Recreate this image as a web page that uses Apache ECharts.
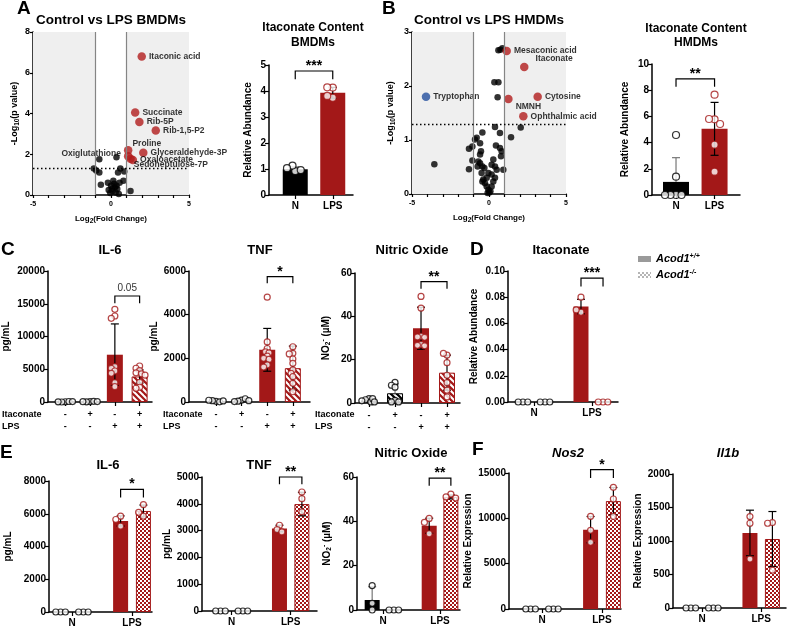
<!DOCTYPE html>
<html>
<head>
<meta charset="utf-8">
<script src="https://cdn.jsdelivr.net/npm/echarts@6.0.0/dist/echarts.min.js"></script>
<style>
  html, body { margin: 0; padding: 0; background: #fff; }
  #chart { width: 787px; height: 629px; }
</style>
</head>
<body>
<div id="chart"></div>
<script>
// ---------------- data ----------------
// A: volcano, BMDMs  [log2FC, -log10 p]
const volcanoAOther = [
  [-1.1, 1.3], [-0.95, 1.2], [-0.75, 1.1], [-0.75, 1.75], [-0.65, 0.5], [-0.2, 0.6], [-0.15, 0.25],
  [-0.05, 0.1], [0, 0.45], [0.05, 0.3], [0.1, 0.2], [0.15, 0.7], [0.2, 0.55], [0.25, 0.38],
  [0.3, 0.12], [0.35, 0.45], [0.4, 0.3], [0.45, 1.1], [0.5, 0.05], [0.55, 0.6], [0.6, 1.3],
  [0.8, 0.7], [0.85, 1.15], [1.25, 0.2], [0.35, 1.85]
];
const volcanoAHits = [
  ['Itaconic acid', 1.97, 6.8], ['Succinate', 1.55, 4.05], ['Rib-5P', 1.82, 3.58],
  ['Rib-1,5-P2', 2.87, 3.17], ['Proline', 1.1, 2.2], ['Glyceraldehyde-3P', 2.07, 2.07],
  ['Oxiglutathione', 1.1, 1.9], ['Oxaloacetate', 1.4, 1.72], ['Sedoheptulose-7P', 1.25, 1.78]
];
// B: volcano, HMDMs
const volcanoBOther = [
  [0.87, 2.70], [0.74, 2.67], [0.61, 2.66], [0.35, 2.07], [0.61, 2.07], [0.56, 1.79], [2.06, 1.23],
  [1.43, 1.05], [0.39, 1.24], [0.71, 1.13], [0.45, 0.90], [0.71, 0.85], [0.82, 0.79], [0.78, 0.70],
  [-0.43, 1.14], [-0.80, 1.04], [-0.91, 1.01], [-1.30, 0.84], [-1.08, 0.88], [-0.58, 0.94],
  [-3.55, 0.55], [-1.30, 0.46], [-1.08, 0.62], [-0.58, 0.57], [-0.43, 0.51], [-0.30, 0.48],
  [-0.04, 0.39], [0.28, 0.64], [0.17, 0.54], [0.39, 0.51], [0.50, 0.45], [0.93, 0.45],
  [-0.48, 0.39], [-0.37, 0.27], [-0.26, 0.20], [-0.15, 0.14], [-0.04, 0.08], [0.02, 0.03],
  [0.17, 0.14], [0.28, 0.23], [0.39, 0.30], [-0.15, 0.30], [-0.43, 0.23], [0.17, 0.36],
  [-0.69, 0.60], [-0.74, 0.51], [-0.58, 0.73], [-0.52, 0.79], [-0.09, 0.02], [0.09, 0.05]
];
const volcanoBHits = [
  ['Mesaconic acid', 1.15, 2.65], ['Itaconate', 2.29, 2.35], ['Cytosine', 3.16, 1.8],
  ['NMNH', 1.26, 1.76], ['Ophthalmic acid', 2.23, 1.44]
];
const volcanoBDown = [['Tryptophan', -4.09, 1.8]];

// A / B itaconate content
const contentGroups = ['N', 'LPS'];
const bmdmMeans = [0.99, 3.93];
const bmdmSd = [0.09, 0.21];
const bmdmDots = [[0.92, 1.13, 0.96, 1.03], [4.13, 4.14, 3.74, 3.81]];
const hmdmMeans = [1.0, 5.05];
const hmdmSd = [1.85, 2.02];
const hmdmDots = [[4.58, 1.4, 0, 0, 0, 0], [7.66, 5.78, 5.8, 5.42, 3.84, 1.78]];

// C: itaconate / LPS treatment
const cItaconate = ['-', '+', '-', '+'];
const cLps = ['-', '-', '+', '+'];
const cIl6Means = [50, 60, 7220, 3900];
const cIl6Sd = [0, 0, 4700, 1000];
const cIl6Dots = [[40, 0, 80, 20, 60], [70, 30, 100, 50, 60],
  [14150, 13130, 12770, 5390, 5140, 4730, 4380, 2950, 2340],
  [5500, 5150, 4800, 4450, 4300, 4100, 3000, 2250, 2100]];
const cTnfMeans = [40, 70, 2390, 1550];
const cTnfSd = [0, 0, 980, 1010];
const cTnfDots = [[30, 60, 10, 80, 50], [90, 40, 150, 20, 60],
  [4800, 2750, 2450, 2300, 2250, 2100, 2000, 1950, 1700, 1600],
  [2530, 2230, 2200, 1970, 1770, 1470, 1310, 1160, 855, 470]];
const cNoMeans = [1.2, 4.5, 34.5, 14];
const cNoSd = [0.8, 4.3, 9.7, 8.1];
const cNoDots = [[2, 1.5, 0.5, 2, 0.5, 1], [9.5, 8.2, 7.3, 1.2, 0.5, 0.5],
  [49.2, 43.8, 30.8, 30.5, 30.3, 27, 26.6, 26.4],
  [22.1, 22.9, 18.6, 12.8, 9.4, 5.9, 2.8]];

// D-F: Acod1+/+ vs Acod1-/-, groups N(+/+), N(-/-), LPS(+/+), LPS(-/-)
const genotypes = ['Acod1+/+', 'Acod1-/-'];
const stimGroups = ['N', 'LPS'];
const dItaMeans = [0, 0, 0.0729, 0];
const dItaSd = [0, 0, 0.0055, 0];
const dItaDots = [[0, 0, 0], [0, 0, 0], [0.080, 0.0685, 0.0703], [0, 0, 0]];
const eIl6Means = [0, 0, 5560, 6170];
const eIl6Sd = [0, 0, 310, 360];
const eIl6Dots = [[0, 0, 0], [0, 0, 0], [5850, 5650, 5240], [6560, 5850, 6090]];
const eTnfMeans = [0, 0, 3080, 3990];
const eTnfSd = [0, 0, 120, 440];
const eTnfDots = [[0, 0, 0], [0, 0, 0], [3200, 3040, 2950], [4440, 4190, 3700]];
const eNoMeans = [4.5, 0, 38, 51];
const eNoSd = [6, 0, 3.4, 0.9];
const eNoDots = [[11, 3, 0], [0, 0, 0], [41.3, 39.5, 34.4], [52.3, 51, 50.5]];
const fNos2Means = [0, 0, 8750, 11900];
const fNos2Sd = [0, 0, 1450, 1500];
const fNos2Dots = [[0, 0, 0], [0, 0, 0], [10220, 8680, 7350], [13420, 12130, 10200]];
const fIl1bMeans = [0, 0, 1120, 1030];
const fIl1bSd = [0, 0, 340, 410];
const fIl1bDots = [[0, 0, 0], [0, 0, 0], [1365, 1265, 730], [1275, 1265, 565]];

// significance brackets: [fromGroup, toGroup, yLow, yHigh, text]
const bmdmSig = [0, 1, 4.45, 4.77, '***'];
const hmdmSig = [0, 1, 8.27, 8.86, '**'];
const cIl6Sig = [2, 3, 15064, 16183, '0.05'];
const cTnfSig = [2, 3, 5435, 5740, '*'];
const cNoSig = [2, 3, 52.7, 56, '**'];
const dItaSig = [2, 3, 0.0882, 0.0946, '***'];
const eIl6Sig = [2, 3, 6985, 7492, '*'];
const eTnfSig = [2, 3, 4727, 5000, '**'];
const eNoSig = [2, 3, 56, 59.5, '**'];
const fNos2Sig = [2, 3, 14450, 15370, '*'];

// ---------------- styling / layout ----------------
const RED = '#a31818';
const HIT_RED = '#b21d1d';
const BLUE = '#234f9e';
const FONT = '"Liberation Sans", Arial, Helvetica, sans-serif';

function makePattern(kind, fg, bg) {
  const c = document.createElement('canvas');
  const s = kind === 'stripe' ? 6 : 4;
  c.width = s; c.height = s;
  const ctx = c.getContext('2d');
  ctx.fillStyle = bg;
  ctx.fillRect(0, 0, s, s);
  ctx.fillStyle = fg;
  ctx.strokeStyle = fg;
  if (kind === 'stripe') {
    ctx.lineWidth = 2;
    [-s, 0, s].forEach(k => {
      ctx.beginPath();
      ctx.moveTo(-1, -1 + k);
      ctx.lineTo(s + 1, s + 1 + k);
      ctx.stroke();
    });
  } else {
    ctx.fillRect(0, 0, s / 2, s / 2);
    ctx.fillRect(s / 2, s / 2, s / 2, s / 2);
  }
  return { image: c, repeat: 'repeat' };
}
const FILLS = {
  black: '#000',
  red: RED,
  blackStripe: makePattern('stripe', '#fff', '#000'),
  redStripe: makePattern('stripe', '#fff', RED),
  redCheck: makePattern('check', '#fff', RED)
};

const grid = [], xAxis = [], yAxis = [], series = [], graphic = [];
const axisLine = { show: true, onZero: false, lineStyle: { color: '#000', width: 1.5 } };
const tickStyle = { color: '#000', width: 1.2 };
const nameStyle = {
  fontSize: 10, fontWeight: 'bold', color: '#000', fontFamily: FONT, lineHeight: 12,
  rich: {
    sub: { fontSize: 6.5, fontWeight: 'bold', verticalAlign: 'bottom', lineHeight: 12 },
    sup: { fontSize: 6.5, fontWeight: 'bold', verticalAlign: 'top', lineHeight: 12 }
  }
};

function addGrid(lay) {
  grid.push({ left: lay.left, top: lay.top, width: lay.width, height: lay.height,
    containLabel: false, outerBoundsMode: 'none' });
  return grid.length - 1;
}

function swarm(vals, pxY, minDist) {
  const placed = [];
  const step = minDist / 2;
  return vals.map(v => {
    const py = v * pxY;
    for (let k = 0; k < 80; k++) {
      const dx = k === 0 ? 0 : (k % 2 ? -1 : 1) * Math.ceil(k / 2) * step;
      if (placed.every(p => Math.hypot(p[0] - dx, p[1] - py) >= minDist - 0.01)) {
        placed.push([dx, py]);
        return dx;
      }
    }
    return 0;
  });
}

function addVolcano(lay, yMax, yStep, others, hits, downHits, tweaks, yGap) {
  const gi = addGrid(lay);
  xAxis.push({
    type: 'value', gridIndex: gi, min: -5, max: 5, interval: 1,
    splitLine: { show: false }, axisLine,
    axisTick: { length: 3, lineStyle: tickStyle },
    axisLabel: { fontSize: 7, fontWeight: 'bold', color: '#000', fontFamily: FONT, margin: 6,
      formatter: v => (v % 5 === 0 ? String(v) : '') },
    name: 'Log{sub|2}(Fold Change)', nameLocation: 'middle', nameGap: 18,
    nameTextStyle: Object.assign({}, nameStyle, { fontSize: 8 })
  });
  yAxis.push({
    type: 'value', gridIndex: gi, min: 0, max: yMax, interval: yStep,
    splitLine: { show: false }, axisLine,
    axisTick: { length: 3, lineStyle: tickStyle },
    axisLabel: { fontSize: 9, fontWeight: 'bold', color: '#000', fontFamily: FONT, margin: 3 },
    name: '-Log{sub|10}(p value)', nameLocation: 'middle', nameGap: yGap, nameRotate: 90,
    nameTextStyle: Object.assign({}, nameStyle, { fontSize: 9 })
  });
  // shaded zones and thresholds
  series.push({
    type: 'line', xAxisIndex: gi, yAxisIndex: gi, data: [], z: 1, silent: true,
    markArea: { silent: true, itemStyle: { color: '#efefef' }, data: [
      [{ xAxis: -5, yAxis: 0 }, { xAxis: -1, yAxis: yMax }],
      [{ xAxis: 1, yAxis: 0 }, { xAxis: 5, yAxis: yMax }]
    ] },
    markLine: { silent: true, symbol: ['none', 'none'], label: { show: false }, animation: false,
      data: [
        { xAxis: -1, lineStyle: { color: '#858585', width: 1.2, type: 'solid' } },
        { xAxis: 1, lineStyle: { color: '#858585', width: 1.2, type: 'solid' } },
        { yAxis: 1.3, lineStyle: { color: '#000', width: 1.4, type: [1.5, 2.5] } }
      ] }
  });
  series.push({
    type: 'scatter', xAxisIndex: gi, yAxisIndex: gi, z: 3, symbolSize: 6.5,
    itemStyle: { color: '#000' }, data: others
  });
  const lbl = (name) => Object.assign({
    show: true, position: 'right', distance: 3, formatter: name,
    fontSize: 8.5, fontWeight: 'bold', color: '#000', fontFamily: FONT
  }, tweaks[name] || {});
  series.push({
    type: 'scatter', xAxisIndex: gi, yAxisIndex: gi, z: 4, symbolSize: 8.5,
    data: hits.map(h => ({ value: [h[1], h[2]], label: lbl(h[0]), itemStyle: { color: HIT_RED } }))
      .concat(downHits.map(h => ({ value: [h[1], h[2]], label: lbl(h[0]), itemStyle: { color: BLUE } })))
  });
}

function addBarPanel(lay, o) {
  const gi = addGrid(lay);
  const pxX = lay.width / (lay.xMax - lay.xMin);
  const pxY = lay.height / lay.yMax;
  xAxis.push({
    type: 'value', gridIndex: gi, min: lay.xMin, max: lay.xMax,
    splitLine: { show: false }, axisLine,
    axisTick: { show: true, length: 4, lineStyle: tickStyle, customValues: o.ticks },
    axisLabel: { show: true, customValues: o.ticks, color: '#000', fontFamily: FONT,
      fontWeight: 'bold', fontSize: o.tickFont || 10, lineHeight: 12, margin: o.tickMargin || 5,
      formatter: v => {
        let best = 0;
        o.ticks.forEach((t, i) => { if (Math.abs(t - v) < Math.abs(o.ticks[best] - v)) best = i; });
        return o.tickLabels[best];
      } }
  });
  yAxis.push({
    type: 'value', gridIndex: gi, min: 0, max: lay.yMax, interval: lay.yStep,
    splitLine: { show: false }, axisLine,
    axisTick: { length: 4, lineStyle: tickStyle },
    axisLabel: { fontSize: 10, fontWeight: 'bold', color: '#000', fontFamily: FONT, margin: 3,
      formatter: o.yFmt || (v => String(v)) },
    name: o.yName, nameLocation: 'middle', nameGap: o.yNameGap, nameRotate: 90,
    nameTextStyle: nameStyle
  });
  // bars
  const barData = [];
  o.means.forEach((m, i) => {
    if (m > 0 && o.fills[i]) {
      const f = o.fills[i];
      barData.push({ value: [o.xs[i], m], itemStyle: {
        color: FILLS[f],
        borderColor: f.indexOf('red') === 0 ? RED : '#000',
        borderWidth: f === 'red' || f === 'black' ? 0 : 1
      } });
    }
  });
  series.push({ type: 'bar', xAxisIndex: gi, yAxisIndex: gi, barWidth: o.barWidth, z: 2,
    silent: true, data: barData });
  // error bars (controls only show the upper arm, like the source figure)
  const errData = [], errCol = [];
  o.sd.forEach((s, i) => {
    if (s > 0) {
      const lo = o.ctrl[i] ? o.means[i] : Math.max(0, o.means[i] - s);
      errData.push([o.xs[i], lo, o.means[i] + s]);
      errCol.push(o.ctrl[i] ? '#777' : '#000');
    }
  });
  series.push({
    type: 'custom', xAxisIndex: gi, yAxisIndex: gi, z: 3, silent: true, data: errData,
    renderItem: (p, api) => {
      const x = api.value(0), lo = api.value(1), hi = api.value(2);
      const a = api.coord([x, lo]), b = api.coord([x, hi]);
      const st = { stroke: errCol[p.dataIndex], lineWidth: 1.2 };
      const w = 4;
      const kids = [
        { type: 'line', shape: { x1: a[0], y1: a[1], x2: b[0], y2: b[1] }, style: st },
        { type: 'line', shape: { x1: b[0] - w, y1: b[1], x2: b[0] + w, y2: b[1] }, style: st }
      ];
      if (lo > 0 && errCol[p.dataIndex] === '#000') {
        kids.push({ type: 'line', shape: { x1: a[0] - w, y1: a[1], x2: a[0] + w, y2: a[1] }, style: st });
      }
      return { type: 'group', children: kids };
    }
  });
  // dots
  const dotData = [];
  o.dots.forEach((vals, i) => {
    const offs = swarm(vals, pxY, o.minDist);
    vals.forEach((v, j) => dotData.push({
      value: [o.xs[i] + offs[j] / pxX, v],
      itemStyle: { borderColor: o.ctrl[i] ? '#000' : RED }
    }));
  });
  series.push({ type: 'scatter', xAxisIndex: gi, yAxisIndex: gi, z: 4, silent: true,
    symbolSize: o.dot, itemStyle: { color: '#fff', borderWidth: 1.2 }, data: dotData });
  // significance bracket
  if (o.sig) {
    const s = o.sig;
    const isStar = s[4].indexOf('*') === 0;
    series.push({
      type: 'custom', xAxisIndex: gi, yAxisIndex: gi, z: 5, silent: true,
      data: [[o.xs[s[0]], s[3]]],
      renderItem: (p, api) => {
        const a = api.coord([o.xs[s[0]], s[2]]), b = api.coord([o.xs[s[0]], s[3]]);
        const c = api.coord([o.xs[s[1]], s[3]]), d = api.coord([o.xs[s[1]], s[2]]);
        return { type: 'group', children: [
          { type: 'polyline', shape: { points: [a, b, c, d] },
            style: { stroke: '#000', lineWidth: 1.2, fill: null } },
          { type: 'text', x: (b[0] + c[0]) / 2, y: isStar ? b[1] + 2 : b[1] - 3,
            style: { text: s[4], align: 'center', verticalAlign: 'bottom',
              textAlign: 'center', textVerticalAlign: 'bottom',
              font: isStar ? 'bold 14px ' + FONT : '10px ' + FONT,
              fill: isStar ? '#000' : '#333' } }
        ] };
      }
    });
  }
}

function txt(x, y, text, size, opt) {
  opt = opt || {};
  const align = opt.align || 'center';
  return { type: 'text', x, y, silent: true, style: {
    text, fill: '#000', align, verticalAlign: 'middle', textAlign: align, textVerticalAlign: 'middle',
    font: (opt.italic ? 'italic ' : '') + (opt.normal ? '' : 'bold ') + size + 'px ' + FONT,
    rich: opt.rich
  } };
}

// ---------------- panels ----------------
addVolcano({ left: 33, top: 32, width: 156, height: 163 }, 8, 2, volcanoAOther, volcanoAHits, [], {
  'Proline': { offset: [-3, -7] },
  'Oxiglutathione': { position: 'left', offset: [0, -3] },
  'Sedoheptulose-7P': { offset: [-4, 6] }
}, 12);
addVolcano({ left: 412, top: 32, width: 154, height: 162 }, 3, 1, volcanoBOther, volcanoBHits, volcanoBDown, {
  'Itaconate': { offset: [4, -8] },
  'NMNH': { offset: [0, 8] }
}, 15);

const pairXs = [1, 2];
addBarPanel({ left: 269, top: 65, width: 84, height: 130, xMin: 0.3, xMax: 2.54, yMax: 5, yStep: 1 }, {
  xs: pairXs, fills: ['black', 'red'], ctrl: [true, false], means: bmdmMeans, sd: bmdmSd, dots: bmdmDots,
  ticks: pairXs, tickLabels: contentGroups, sig: bmdmSig, yName: 'Relative Abundance', yNameGap: 15,
  barWidth: 25, dot: 7, minDist: 5.5
});
addBarPanel({ left: 652, top: 64, width: 88, height: 131, xMin: 0.377, xMax: 2.66, yMax: 10, yStep: 2 }, {
  xs: pairXs, fills: ['black', 'red'], ctrl: [true, false], means: hmdmMeans, sd: hmdmSd, dots: hmdmDots,
  ticks: pairXs, tickLabels: contentGroups, sig: hmdmSig, yName: 'Relative Abundance', yNameGap: 21,
  barWidth: 26, dot: 7, minDist: 5.5
});

const quadXs = [1, 2, 3, 4];
const quadLabels = cItaconate.map((s, i) => s + '\n' + cLps[i]);
const cCommon = { xs: quadXs, fills: ['black', 'blackStripe', 'red', 'redStripe'], ctrl: [true, true, false, false],
  ticks: quadXs, tickLabels: quadLabels, tickFont: 9, tickMargin: 7, barWidth: 16, dot: 6, minDist: 3.6 };
addBarPanel({ left: 48, top: 271, width: 104, height: 131, xMin: 0.3, xMax: 4.5, yMax: 20000, yStep: 5000 },
  Object.assign({}, cCommon, { means: cIl6Means, sd: cIl6Sd, dots: cIl6Dots, sig: cIl6Sig,
    yName: 'pg/mL', yNameGap: 36 }));
addBarPanel({ left: 189, top: 271, width: 121, height: 131, xMin: -0.055, xMax: 4.67, yMax: 6000, yStep: 2000 },
  Object.assign({}, cCommon, { means: cTnfMeans, sd: cTnfSd, dots: cTnfDots, sig: cTnfSig,
    yName: 'pg/mL', yNameGap: 23 }));
addBarPanel({ left: 355, top: 273, width: 105, height: 130, xMin: 0.46, xMax: 4.5, yMax: 60, yStep: 20 },
  Object.assign({}, cCommon, { means: cNoMeans, sd: cNoSd, dots: cNoDots, sig: cNoSig,
    yName: 'NO{sub|2}{sup|-} (µM)', yNameGap: 23 }));

const SUB = 0.19;
const subXs = [1 - SUB, 1 + SUB, 2 - SUB, 2 + SUB];
const gCommon = { xs: subXs, fills: ['black', null, 'red', 'redCheck'], ctrl: [true, true, false, false],
  ticks: pairXs, tickLabels: stimGroups, barWidth: 15, dot: 6, minDist: 4.8 };
addBarPanel({ left: 508, top: 271, width: 110, height: 131, xMin: 0.552, xMax: 2.448, yMax: 0.1, yStep: 0.02 },
  Object.assign({}, gCommon, { means: dItaMeans, sd: dItaSd, dots: dItaDots, sig: dItaSig,
    yName: 'Relative Abundance', yNameGap: 28, yFmt: v => v.toFixed(2) }));
addBarPanel({ left: 49, top: 481, width: 103, height: 131, xMin: 0.617, xMax: 2.333, yMax: 8000, yStep: 2000 },
  Object.assign({}, gCommon, { means: eIl6Means, sd: eIl6Sd, dots: eIl6Dots, sig: eIl6Sig,
    yName: 'pg/mL', yNameGap: 35 }));
addBarPanel({ left: 202, top: 477, width: 115, height: 134, xMin: 0.497, xMax: 2.446, yMax: 5000, yStep: 1000 },
  Object.assign({}, gCommon, { means: eTnfMeans, sd: eTnfSd, dots: eTnfDots, sig: eTnfSig,
    yName: 'pg/mL', yNameGap: 28 }));
addBarPanel({ left: 357, top: 477, width: 103, height: 133, xMin: 0.544, xMax: 2.35, yMax: 60, yStep: 20 },
  Object.assign({}, gCommon, { means: eNoMeans, sd: eNoSd, dots: eNoDots, sig: eNoSig,
    yName: 'NO{sub|2}{sup|-} (µM)', yNameGap: 24 }));
addBarPanel({ left: 509, top: 473, width: 112, height: 136, xMin: 0.45, xMax: 2.317, yMax: 15000, yStep: 5000 },
  Object.assign({}, gCommon, { means: fNos2Means, sd: fNos2Sd, dots: fNos2Dots, sig: fNos2Sig,
    yName: 'Relative Expression', yNameGap: 31 }));
addBarPanel({ left: 673, top: 474, width: 113, height: 134, xMin: 0.508, xMax: 2.42, yMax: 2000, yStep: 500 },
  Object.assign({}, gCommon, { means: fIl1bMeans, sd: fIl1bSd, dots: fIl1bDots, sig: null,
    yName: 'Relative Expression', yNameGap: 29 }));

// ---------------- titles, letters, row labels, legend ----------------
[['A', 17, 9], ['B', 382, 9], ['C', 1, 250], ['D', 470, 250], ['E', 0, 453], ['F', 472, 450]]
  .forEach(l => graphic.push(txt(l[1], l[2], l[0], 19, { align: 'left' })));

graphic.push(txt(111, 20, 'Control vs LPS BMDMs', 13.5));
graphic.push(txt(313, 28, 'Itaconate Content', 12));
graphic.push(txt(313, 43, 'BMDMs', 12));
graphic.push(txt(489, 20, 'Control vs LPS HMDMs', 13.5));
graphic.push(txt(696, 29, 'Itaconate Content', 12));
graphic.push(txt(696, 43, 'HMDMs', 12));
graphic.push(txt(110, 250, 'IL-6', 13));
graphic.push(txt(260, 250, 'TNF', 13));
graphic.push(txt(412, 250, 'Nitric Oxide', 13));
graphic.push(txt(561, 250, 'Itaconate', 13));
graphic.push(txt(108, 465, 'IL-6', 13));
graphic.push(txt(259, 465, 'TNF', 13));
graphic.push(txt(411, 453, 'Nitric Oxide', 13));
graphic.push(txt(568, 453, 'Nos2', 13, { italic: true }));
graphic.push(txt(728, 453, 'Il1b', 13, { italic: true }));

[2, 163, 315].forEach(x => {
  graphic.push(txt(x, 415, 'Itaconate', 9, { align: 'left' }));
  graphic.push(txt(x, 427, 'LPS', 9, { align: 'left' }));
});

const supRich = { sup: { fontSize: 7, fontWeight: 'bold', fontStyle: 'italic', verticalAlign: 'top', lineHeight: 12 } };
graphic.push({ type: 'rect', silent: true, shape: { x: 638, y: 256, width: 13, height: 6 }, style: { fill: '#9a9a9a' } });
graphic.push({ type: 'rect', silent: true, shape: { x: 638, y: 272, width: 13, height: 6 },
  style: { fill: makePattern('check', '#fff', '#b5b5b5') } });
genotypes.forEach((g, i) => {
  const parts = g.split('Acod1');
  graphic.push(txt(656, 259 + i * 16, 'Acod1{sup|' + parts[1] + '}', 11,
    { align: 'left', italic: true, rich: supRich }));
});

const chart = echarts.init(document.getElementById('chart'));
chart.setOption({
  animation: false,
  textStyle: { fontFamily: FONT },
  grid, xAxis, yAxis, series, graphic
});
</script>
